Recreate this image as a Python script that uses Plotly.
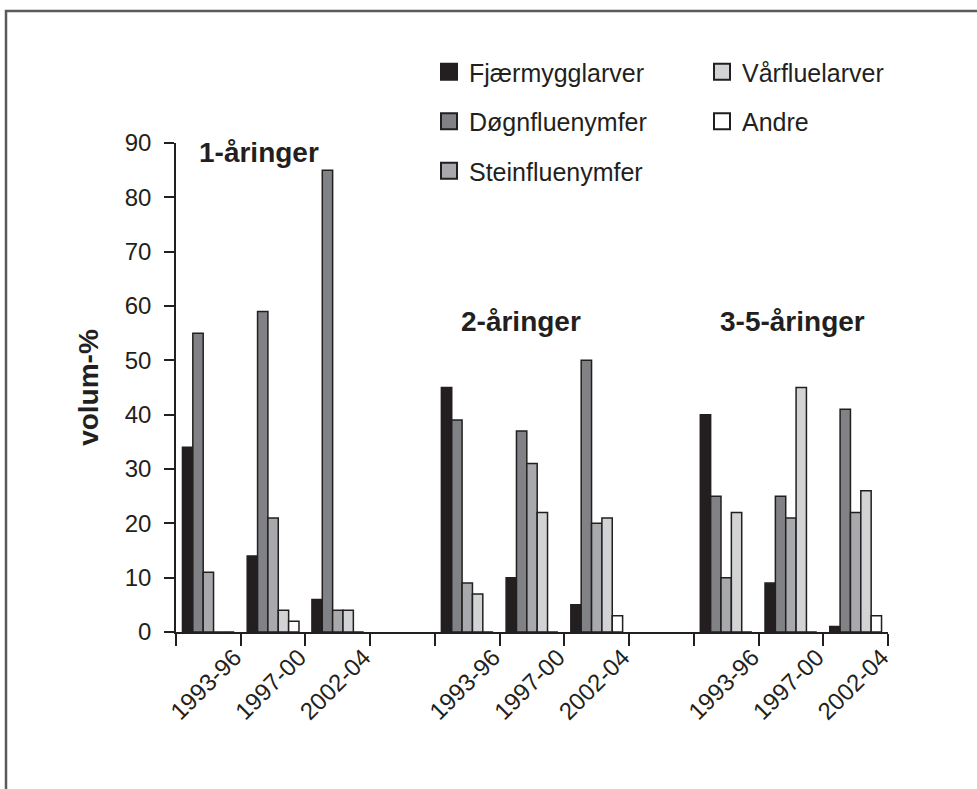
import plotly.graph_objects as go

# ---- data ----
age_groups = ["1-åringer", "2-åringer", "3-5-åringer"]
periods = ["1993-96", "1997-00", "2002-04"]
series_names = ["Fjærmygglarver", "Døgnfluenymfer", "Steinfluenymfer", "Vårfluelarver", "Andre"]

# 11 slots: 3 periods, gap, 3 periods, gap, 3 periods
fjaermygglarver = [34, 14, 6, None, 45, 10, 5, None, 40, 9, 1]
dognfluenymfer = [55, 59, 85, None, 39, 37, 50, None, 25, 25, 41]
steinfluenymfer = [11, 21, 4, None, 9, 31, 20, None, 10, 21, 22]
varfluelarver = [0, 4, 4, None, 7, 22, 21, None, 22, 45, 26]
andre = [0, 2, 0, None, 0, 0, 3, None, 0, 0, 3]

y_ticks = [0, 10, 20, 30, 40, 50, 60, 70, 80, 90]

# ---- categories (unique ids + display aliases) ----
cat_ids, alias = [], {}
for gi, g in enumerate(age_groups):
    for p in periods:
        cid = f"{g}|{p}"
        cat_ids.append(cid)
        alias[cid] = p
    if gi < len(age_groups) - 1:
        cid = f"gap{gi}"
        cat_ids.append(cid)
        alias[cid] = ""

values = [fjaermygglarver, dognfluenymfer, steinfluenymfer, varfluelarver, andre]
colors = ["#231f20", "#808285", "#a7a9ac", "#d1d3d4", "#ffffff"]
legend_of = ["legend", "legend", "legend", "legend2", "legend2"]
edge = "#231f20"
FONT = "Liberation Sans, Arial, sans-serif"

fig = go.Figure()
for name, vals, col, lg in zip(series_names, values, colors, legend_of):
    fig.add_trace(go.Bar(
        x=cat_ids, y=vals, name=name, legendgroup=name, showlegend=False,
        marker=dict(color=col, line=dict(color=edge, width=1.5)),
    ))
    # legend entry (larger square symbol)
    fig.add_trace(go.Scatter(
        x=[None], y=[None], mode="markers", name=name, legendgroup=name,
        legend=lg, showlegend=True,
        marker=dict(symbol="square", size=16, color=col, line=dict(color=edge, width=2)),
    ))

L, R, T, B = 176, 89, 143, 157
W, H = 977, 789
pw, ph = W - L - R, H - T - B

def px_x(x):
    return (x - L) / pw

def px_y(y):
    return (H - B - y) / ph

legend_common = dict(
    font=dict(family=FONT, size=25, color="#231f20"),
    bgcolor="rgba(0,0,0,0)", orientation="v", tracegroupgap=14,
    xanchor="left", yanchor="top", itemclick=False, itemdoubleclick=False,
)

fig.update_layout(
    width=W, height=H,
    margin=dict(l=L, r=R, t=T, b=B),
    paper_bgcolor="white", plot_bgcolor="white",
    barmode="group", bargap=0.2, bargroupgap=0,
    font=dict(family=FONT, size=24, color="#231f20"),
    legend=dict(x=px_x(429), y=px_y(49), **legend_common),
    legend2=dict(x=px_x(702), y=px_y(49), **legend_common),
    xaxis=dict(
        type="category", categoryorder="array", categoryarray=cat_ids,
        labelalias=alias, tickmode="linear", tick0=0, dtick=1,
        tickson="boundaries", ticks="outside", ticklen=12, tickwidth=1.5,
        tickcolor=edge, showline=True, linecolor=edge, linewidth=1.5,
        showgrid=False, zeroline=False, tickangle=-45, ticklabelshift=26,
        tickfont=dict(family=FONT, size=24, color="#231f20"),
        range=[-0.5, len(cat_ids) - 0.5],
    ),
    yaxis=dict(
        range=[0, 90], tickmode="array", tickvals=y_ticks,
        ticks="outside", ticklen=10, tickwidth=1.5, tickcolor=edge,
        showline=True, linecolor=edge, linewidth=1.5,
        showgrid=False, zeroline=False, ticklabelstandoff=8,
        tickfont=dict(family=FONT, size=24, color="#231f20"),
        title=dict(text="<b>volum-%</b>", font=dict(family=FONT, size=28, color="#231f20"), standoff=18),
    ),
)

# group labels
label_pos = [(0.78, 88.2), (4.83, 57.2), (9.03, 57.2)]
for g, (xa, ya) in zip(age_groups, label_pos):
    fig.add_annotation(
        x=xa, y=ya, xref="x", yref="y", text=f"<b>{g}</b>", showarrow=False,
        font=dict(family=FONT, size=28, color="#231f20"), xanchor="center", yanchor="middle",
    )

# outer frame
fig.add_shape(
    type="rect", xref="paper", yref="paper",
    x0=px_x(6), y0=px_y(800), x1=px_x(995), y1=px_y(11),
    line=dict(color="#5a5a5a", width=2.5), fillcolor="rgba(0,0,0,0)", layer="below",
)

fig.write_html("out.html")
